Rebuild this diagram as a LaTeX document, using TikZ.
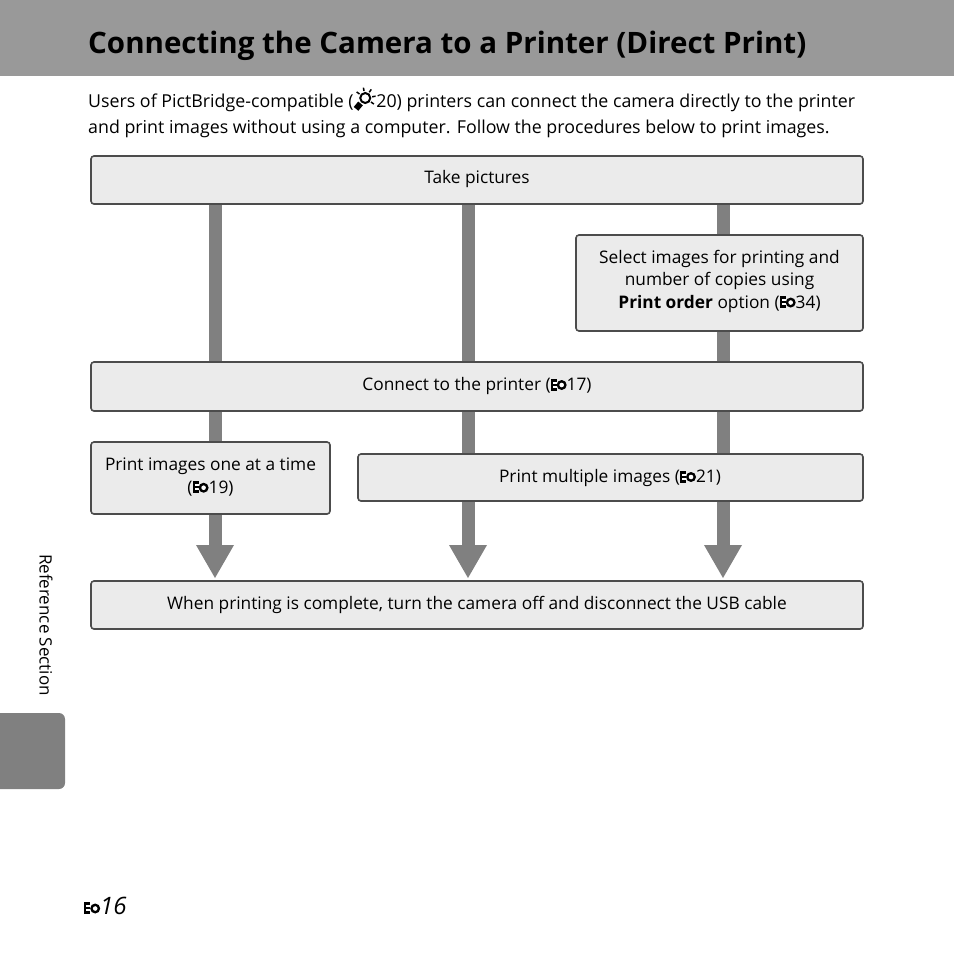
\documentclass[tikz,border=0pt]{standalone}
\usepackage{fontspec}
\setmainfont{Open Sans}
\begin{document}
\newcommand{\eico}{\tikz[baseline=0pt,x=1pt,y=1pt]{\fill (0,0) rectangle (6,12);\fill[white] (2,3) rectangle (6,5);\fill[white] (2,7) rectangle (6,9);\fill (11,5.5) circle (5);\fill[white] (11,5.5) circle (2.3);}}
\newcommand{\bulb}{\tikz[baseline=0pt,x=1pt,y=1pt]{\draw[line width=2pt] (10,9) circle (5);\fill[rotate around={-40:(4,2)}] (1,-3) rectangle (7,4);\foreach \a in {10,55,100,145,-35}{\draw[line width=1.5pt] (10,9)++(\a:7) -- ++(\a:3.5);}}}
\begin{tikzpicture}[x=1pt,y=-1pt,
  box/.style={draw=black!70,fill=black!8,line width=1.6pt,rounded corners=3pt},
  bar/.style={fill=black!50},
  txt/.style={font=\fontsize{17.3}{22.5}\selectfont,align=center}]
\useasboundingbox (0,0) rectangle (954,954);
\fill[black!40] (0,0) rectangle (954,76);
\node[anchor=base west,font=\fontsize{29.5}{30}\bfseries,inner sep=0] (title) at (88,53) {Connecting the Camera to a Printer (Direct Print)};
\node[anchor=base west,font=\fontsize{17.8}{26}\selectfont,inner sep=0] (intro1) at (88,107) {Users of PictBridge-compatible (\bulb20) printers can connect the camera directly to the printer};
\node[anchor=base west,font=\fontsize{17.8}{26}\selectfont,inner sep=0] (intro2) at (88,133) {and print images without using a computer. Follow the procedures below to print images.};
\foreach \x/\n in {215/a,468/b,723/c}{
  \fill[bar] (\x-6.5,204) rectangle (\x+6.5,545);
  \fill[bar] (\x-19,545) -- (\x+19,545) -- (\x,578) -- cycle;
}
\draw[box] (91,156) rectangle (863,204);
\node[txt] (take) at (477,179) {Take pictures};
\draw[box] (576,235) rectangle (863,331);
\node[txt] (sel) at (719.5,281) {Select images for printing and\\number of copies using\\\textbf{Print order} option (\eico34)};
\draw[box] (91,362) rectangle (863,411);
\node[txt] (conn) at (477,386) {Connect to the printer (\eico17)};
\draw[box] (91,442) rectangle (330,514);
\node[txt] (one) at (210.5,477) {Print images one at a time\\(\eico19)};
\draw[box] (358,454) rectangle (863,501);
\node[txt] (mult) at (610,478) {Print multiple images (\eico21)};
\draw[box] (91,581) rectangle (863,629);
\node[txt] (fin) at (477,605) {When printing is complete, turn the camera off and disconnect the USB cable};
\fill[black!50,rounded corners=6pt] (-10,713) rectangle (65,789);
\node[rotate=-90,font=\fontsize{17}{18}\selectfont] (side) at (46,625) {Reference Section};
\node[anchor=base west,font=\fontsize{24}{26}\itshape,inner sep=0] (pg) at (84,914) {\eico16};
\end{tikzpicture}
\end{document}
